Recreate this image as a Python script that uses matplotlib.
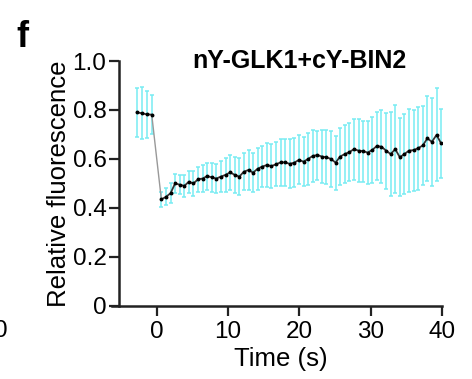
import matplotlib.pyplot as plt
import numpy as np

plt.rcParams['font.family'] = ['Liberation Sans', 'DejaVu Sans']

# ---- data ----
t_pre = [-2.8, -2.1, -1.4, -0.7]
y_pre = [0.79, 0.787, 0.782, 0.781]
e_pre = [0.10, 0.105, 0.095, 0.08]

t_post = list(np.round(np.linspace(0.65, 39.9, 62), 2))
y_post = [0.435, 0.445, 0.460, 0.500, 0.495, 0.490, 0.507, 0.500, 0.517, 0.520,
          0.530, 0.525, 0.520, 0.528, 0.535, 0.545, 0.535, 0.528, 0.548, 0.555,
          0.544, 0.560, 0.569, 0.575, 0.571, 0.578, 0.586, 0.586, 0.580, 0.585,
          0.596, 0.589, 0.600, 0.612, 0.616, 0.610, 0.607, 0.600, 0.585, 0.610,
          0.620, 0.628, 0.640, 0.634, 0.632, 0.626, 0.637, 0.653, 0.650, 0.634,
          0.620, 0.640, 0.607, 0.620, 0.634, 0.636, 0.644, 0.655, 0.684, 0.670,
          0.698, 0.664]
e_post = [0.030, 0.035, 0.040, 0.040, 0.040, 0.045, 0.045, 0.050, 0.050, 0.055,
          0.055, 0.060, 0.060, 0.065, 0.070, 0.070, 0.075, 0.075, 0.075, 0.080,
          0.080, 0.085, 0.085, 0.090, 0.090, 0.090, 0.095, 0.095, 0.100, 0.100,
          0.100, 0.100, 0.105, 0.105, 0.100, 0.110, 0.110, 0.115, 0.110, 0.115,
          0.120, 0.120, 0.125, 0.130, 0.125, 0.130, 0.135, 0.140, 0.150, 0.155,
          0.170, 0.180, 0.160, 0.165, 0.170, 0.165, 0.170, 0.160, 0.175, 0.180,
          0.190, 0.140]

XTICKS = [0, 10, 20, 30, 40]
YTICKS = [0, 0.2, 0.4, 0.6, 0.8, 1.0]
YTICKLABELS = ['0', '0.2', '0.4', '0.6', '0.8', '1.0']

# ---- plot ----
fig = plt.figure(figsize=(4.72, 3.79), dpi=100)
ax = fig.add_axes([0.252, 0.193, 0.684, 0.646])

ecol = '#78ecf2'
ax.errorbar(t_pre, y_pre, yerr=e_pre, fmt='none', ecolor=ecol, elinewidth=1.1,
            capsize=1.5, capthick=1.1)
ax.errorbar(t_post, y_post, yerr=e_post, fmt='none', ecolor=ecol, elinewidth=1.1,
            capsize=1.5, capthick=1.1)

ax.plot([t_pre[-1], t_post[0]], [y_pre[-1], y_post[0]], color='#999999', lw=1.0)
ax.plot(t_pre, y_pre, color='#333333', lw=1.3, marker='o', ms=1.8, mfc='black', mec='black')
ax.plot(t_post, y_post, color='#333333', lw=1.3, marker='o', ms=1.8, mfc='black', mec='black')

ax.set_xlim(-5.3, 40)
ax.set_ylim(0, 1.0)
ax.set_xticks(XTICKS)
ax.set_yticks(YTICKS)
ax.set_yticklabels(YTICKLABELS)

for s in ['top', 'right']:
    ax.spines[s].set_visible(False)
for s in ['left', 'bottom']:
    ax.spines[s].set_linewidth(1.8)
    ax.spines[s].set_color('#222222')
ax.spines['bottom'].set_bounds(-6.3, 40)
ax.tick_params(axis='both', direction='out', length=7, width=1.6, color='#222222',
               labelsize=17.5, pad=2)
ax.tick_params(axis='x', pad=4)

ax.set_ylabel('Relative fluorescence', fontsize=18.5, labelpad=1)
ax.set_xlabel('Time (s)', fontsize=18.5, labelpad=3)
ax.text(0.56, 1.0, 'nY-GLK1+cY-BIN2', transform=ax.transAxes, ha='center', va='center',
        fontsize=18, fontweight='bold')

fig.text(0.035, 0.90, 'f', fontsize=26, fontweight='bold', ha='left', va='center')
fig.text(-0.012, 0.127, '0', fontsize=17.5, ha='left', va='center')

fig.savefig('out.png', dpi=100)
